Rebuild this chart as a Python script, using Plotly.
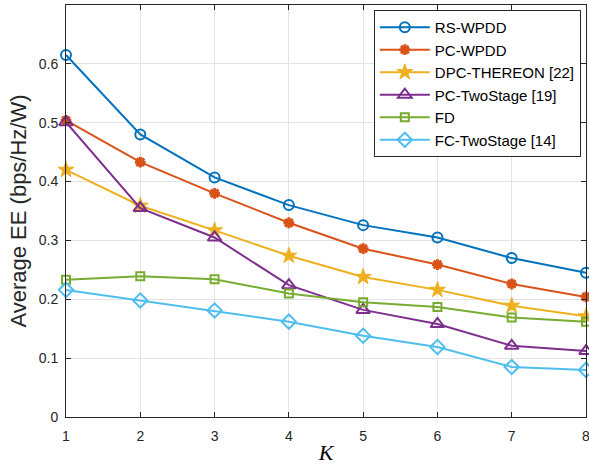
import plotly.graph_objects as go

K = [1, 2, 3, 4, 5, 6, 7, 8]
rs_wpdd = [0.615, 0.480, 0.407, 0.360, 0.326, 0.305, 0.270, 0.245]
pc_wpdd = [0.504, 0.433, 0.380, 0.330, 0.286, 0.259, 0.226, 0.204]
dpc_thereon = [0.420, 0.359, 0.317, 0.274, 0.238, 0.216, 0.189, 0.171]
pc_twostage = [0.501, 0.355, 0.305, 0.224, 0.182, 0.158, 0.121, 0.112]
fd = [0.233, 0.239, 0.234, 0.210, 0.195, 0.187, 0.169, 0.162]
fc_twostage = [0.216, 0.198, 0.181, 0.162, 0.138, 0.119, 0.085, 0.080]

series = [
    ("RS-WPDD", rs_wpdd, "#0072BD", "circle-open", 10, 2),
    ("PC-WPDD", pc_wpdd, "#D95319", "asterisk-open", 9, 3),
    ("DPC-THEREON [22]", dpc_thereon, "#EDB120", "star", 12, 1),
    ("PC-TwoStage [19]", pc_twostage, "#7E2F8E", "triangle-up-open", 12, 2),
    ("FD", fd, "#77AC30", "square-open", 8, 2),
    ("FC-TwoStage [14]", fc_twostage, "#4DBEEE", "diamond-open", 11, 2),
]

fig = go.Figure()
for name, vals, color, sym, size, lw in series:
    fig.add_trace(go.Scatter(
        x=K, y=vals, name=name, mode="lines+markers",
        line=dict(color=color, width=2),
        marker=dict(symbol=sym, size=size, color=color,
                    line=dict(color=color, width=lw)),
        cliponaxis=False,
    ))

fig.update_layout(
    width=589, height=465,
    margin=dict(l=66, r=3, t=5, b=48),
    paper_bgcolor="white", plot_bgcolor="white",
    font=dict(family="Liberation Sans, Arial, sans-serif", size=14, color="#262626"),
    showlegend=True,
    legend=dict(x=0.99, y=0.988, xanchor="right", yanchor="top",
                bordercolor="#262626", borderwidth=1, bgcolor="white",
                font=dict(size=15, color="#000000"), tracegroupgap=0,
                itemwidth=50),
)
fig.update_xaxes(
    range=[1, 8], tickvals=K, ticks="inside", ticklen=5, tickcolor="#262626",
    showline=True, linecolor="#262626", linewidth=1, mirror="ticks",
    showgrid=True, gridcolor="#e3e3e3", gridwidth=1, zeroline=False,
    tickfont=dict(size=14), ticklabeloverflow="allow", ticklabelstandoff=6,
    automargin=False,
    title=dict(text="K", font=dict(family="Liberation Serif, Times New Roman, serif",
                                    size=22, style="italic", color="#000000"), standoff=10),
)
fig.update_yaxes(
    range=[0, 0.7], tickvals=[0, 0.1, 0.2, 0.3, 0.4, 0.5, 0.6],
    ticktext=["0", "0.1", "0.2", "0.3", "0.4", "0.5", "0.6"],
    ticks="inside", ticklen=5, tickcolor="#262626",
    showline=True, linecolor="#262626", linewidth=1, mirror="ticks",
    showgrid=True, gridcolor="#e3e3e3", gridwidth=1, zeroline=False,
    tickfont=dict(size=14), ticklabelstandoff=4, automargin=False,
    title=dict(text="Average EE (bps/Hz/W)", font=dict(size=22, color="#262626"), standoff=6),
)

fig.write_html("out.html")
